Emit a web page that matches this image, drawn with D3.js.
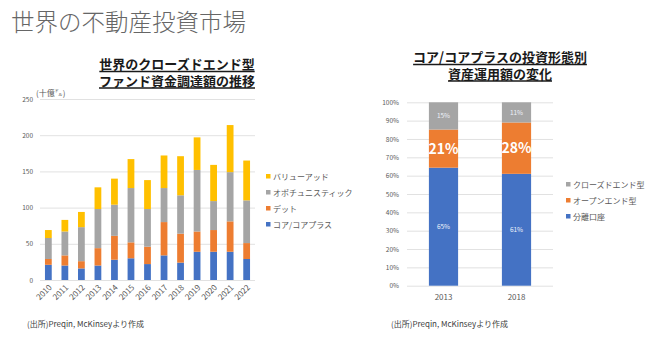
<!DOCTYPE html>
<html lang="ja">
<head>
<meta charset="UTF-8">
<script src="https://cdnjs.cloudflare.com/ajax/libs/d3/7.8.5/d3.min.js"></script>
<title>世界の不動産投資市場</title>
<style>
  body { margin: 0; background: #fff; }
  text { font-family: "Noto Sans CJK JP", "Noto Sans", sans-serif; }
</style>
</head>
<body>
<div id="chart"></div>
<script>
// closed-end fund raising by strategy (billion USD)
const years = ['2010', '2011', '2012', '2013', '2014', '2015', '2016', '2017', '2018', '2019', '2020', '2021', '2022'];
const coreVals = [21, 20, 16, 20, 28, 30, 22, 34, 24, 39, 39, 39, 29];
const debtVals = [8, 14, 10, 24, 33, 22, 24, 46, 40, 28, 30, 42, 22];
const oppVals = [29, 33, 47, 54, 43, 75, 52, 47, 53, 85, 40, 68, 59];
const vaVals = [11, 16, 21, 30, 36, 40, 40, 45, 54, 45, 50, 65, 55];
const leftTicks = [0, 50, 100, 150, 200, 250];

// core/core-plus AUM by vehicle (%)
const periods = ['2013', '2018'];
const separateVals = [65, 61];
const openVals = [21, 28];
const closedVals = [15, 11];

const blue = '#4472C4', orange = '#ED7D31', gray = '#A5A5A5', yellow = '#FFC000';
const W = 660, H = 339;

const svg = d3.select('#chart').append('svg')
  .attr('width', W).attr('height', H);

// page heading
svg.append('text')
  .attr('x', 11).attr('y', 31)
  .attr('font-size', 23.5)
  .attr('fill', '#666')
  .attr('font-weight', 300)
  .text('世界の不動産投資市場');

function title(lines, cx, y0) {
  lines.forEach((t, i) => {
    const txt = svg.append('text')
      .attr('x', cx).attr('y', y0 + i * 16.5)
      .attr('text-anchor', 'middle')
      .attr('font-size', 13).attr('font-weight', 'bold')
      .attr('fill', '#1a1a1a')
      .text(t);
    const bb = txt.node().getBBox();
    svg.append('line')
      .attr('x1', bb.x).attr('x2', bb.x + bb.width)
      .attr('y1', y0 + i * 16.5 + 2.5).attr('y2', y0 + i * 16.5 + 2.5)
      .attr('stroke', '#1a1a1a').attr('stroke-width', 1.3);
  });
}

function styleAxis(g) {
  g.select('.domain').remove();
  g.selectAll('.tick line').attr('stroke', '#d9d9d9').attr('stroke-width', 0.8);
  g.selectAll('.tick text').attr('fill', '#595959').attr('font-family', '"Noto Sans CJK JP", sans-serif');
}

// ---------- left: stacked fund raising ----------
title(['世界のクローズドエンド型', 'ファンド資金調達額の推移'], 177, 69);

const leftKeys = ['core', 'debt', 'opp', 'va'];
const leftColors = { core: blue, debt: orange, opp: gray, va: yellow };
const leftRows = years.map((y, i) => ({
  year: y, core: coreVals[i], debt: debtVals[i], opp: oppVals[i], va: vaVals[i]
}));
const leftStack = d3.stack().keys(leftKeys)(leftRows);

const x1 = d3.scaleBand().domain(years).range([40, 255]).paddingInner(0.59).paddingOuter(0.3);
const y1 = d3.scaleLinear().domain([0, 250]).range([280, 99]);

svg.append('g').attr('transform', 'translate(40,0)')
  .call(d3.axisLeft(y1).tickValues(leftTicks).tickSizeInner(-215).tickSizeOuter(0).tickPadding(7))
  .call(styleAxis)
  .selectAll('.tick text').attr('font-size', 6.5);

svg.append('g').attr('transform', 'translate(0,280)')
  .call(d3.axisBottom(x1).tickSize(0))
  .call(styleAxis)
  .selectAll('.tick text')
  .attr('font-size', 8)
  .attr('y', 0).attr('dy', 0)
  .attr('text-anchor', 'end')
  .attr('transform', 'translate(4,8) rotate(-45)');

svg.append('g').selectAll('g').data(leftStack).join('g')
  .attr('fill', d => leftColors[d.key])
  .selectAll('rect').data(d => d).join('rect')
  .attr('x', d => x1(d.data.year))
  .attr('width', x1.bandwidth())
  .attr('y', d => y1(d[1]))
  .attr('height', d => y1(d[0]) - y1(d[1]));

svg.append('text')
  .attr('x', 36).attr('y', 96)
  .attr('font-size', 8).attr('fill', '#595959')
  .text('(十億㌦)');

const leftLegend = [
  { name: 'バリューアッド', color: yellow },
  { name: 'オポチュニスティック', color: gray },
  { name: 'デット', color: orange },
  { name: 'コア/コアプラス', color: blue }
];
const lg1 = svg.append('g').selectAll('g').data(leftLegend).join('g')
  .attr('transform', (d, i) => `translate(266,${177 + i * 16})`);
lg1.append('rect').attr('x', 0).attr('y', -3).attr('width', 4.5).attr('height', 4.5).attr('fill', d => d.color);
lg1.append('text').attr('x', 7).attr('y', 3).attr('font-size', 8).attr('fill', '#595959').text(d => d.name);

svg.append('text')
  .attr('x', 27).attr('y', 327)
  .attr('font-size', 8).attr('fill', '#404040')
  .text('(出所)Preqin, McKinseyより作成');

// ---------- right: 100% stacked AUM ----------
title(['コア/コアプラスの投資形態別', '資産運用額の変化'], 500, 62);

const rightKeys = ['separate', 'open', 'closed'];
const rightColors = { separate: blue, open: orange, closed: gray };
const rightRows = periods.map((p, i) => ({
  period: p, separate: separateVals[i], open: openVals[i], closed: closedVals[i]
}));
const rightStack = d3.stack().keys(rightKeys).offset(d3.stackOffsetExpand)(rightRows);

const x2 = d3.scaleBand().domain(periods).range([407, 553]).paddingInner(0.6).paddingOuter(0.3);
const y2 = d3.scaleLinear().domain([0, 1]).range([285.7, 102.3]);

svg.append('g').attr('transform', 'translate(407,0)')
  .call(d3.axisLeft(y2).ticks(10, '.0%').tickSizeInner(-146).tickSizeOuter(0).tickPadding(8))
  .call(styleAxis)
  .selectAll('.tick text').attr('font-size', 6.5);

svg.append('g').attr('transform', 'translate(0,285.7)')
  .call(d3.axisBottom(x2).tickSize(0).tickPadding(9))
  .call(styleAxis)
  .selectAll('.tick text').attr('font-size', 8).attr('dy', '0.71em');

const seg = svg.append('g').selectAll('g').data(rightStack).join('g')
  .attr('fill', d => rightColors[d.key]);
seg.selectAll('rect').data(d => d).join('rect')
  .attr('x', d => x2(d.data.period))
  .attr('width', x2.bandwidth())
  .attr('y', d => y2(d[1]))
  .attr('height', d => y2(d[0]) - y2(d[1]));

seg.each(function (s) {
  d3.select(this).selectAll('text').data(s).join('text')
    .attr('x', d => x2(d.data.period) + x2.bandwidth() / 2)
    .attr('y', d => (y2(d[0]) + y2(d[1])) / 2)
    .attr('dy', '0.35em')
    .attr('text-anchor', 'middle')
    .attr('fill', s.key === 'open' ? '#fff' : '#eef2fa')
    .attr('font-size', s.key === 'open' ? 14 : 6.5)
    .attr('font-weight', s.key === 'open' ? 'bold' : 'normal')
    .text(d => d.data[s.key] + '%');
});

const rightLegend = [
  { name: 'クローズドエンド型', color: gray },
  { name: 'オープンエンド型', color: orange },
  { name: '分離口座', color: blue }
];
const lg2 = svg.append('g').selectAll('g').data(rightLegend).join('g')
  .attr('transform', (d, i) => `translate(566,${185 + i * 16})`);
lg2.append('rect').attr('x', 0).attr('y', -3).attr('width', 4.5).attr('height', 4.5).attr('fill', d => d.color);
lg2.append('text').attr('x', 7).attr('y', 3).attr('font-size', 8).attr('fill', '#595959').text(d => d.name);

svg.append('text')
  .attr('x', 391).attr('y', 327)
  .attr('font-size', 8).attr('fill', '#404040')
  .text('(出所)Preqin, McKinseyより作成');
</script>
</body>
</html>
